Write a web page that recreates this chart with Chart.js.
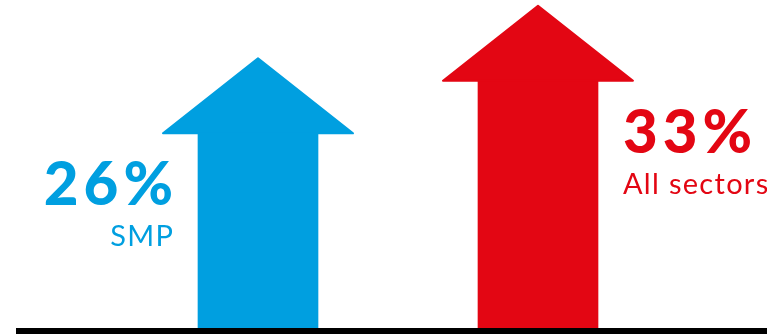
<!DOCTYPE html>
<html lang="en">
<head>
    <meta charset="UTF-8">
    <title>Increase by sector</title>
    <script src="https://cdn.jsdelivr.net/npm/chart.js"></script>
    <style>
        body { margin: 0; background: #fff; }
        #wrap { width: 767px; height: 334px; }
    </style>
</head>
<body>
    <div id="wrap"><canvas id="arrowChart"></canvas></div>

    <script>
        const categories = ['SMP', 'All sectors'];
        const values = [26, 33];
        const colours = ['#009fe0', '#e30613'];

        // draws arrow heads on the bars, the base line and the labels
        const arrowPlugin = {
            id: 'arrows',
            afterDatasetsDraw(chart) {
                const ctx = chart.ctx;
                const meta = chart.getDatasetMeta(0);
                const zeroY = chart.scales.y.getPixelForValue(0);
                const headOver = 35;
                const headHeight = 74;

                ctx.save();
                meta.data.forEach((bar, i) => {
                    const half = bar.width / 2;
                    ctx.fillStyle = colours[i];
                    ctx.strokeStyle = colours[i];
                    ctx.lineWidth = 2;
                    ctx.lineJoin = 'round';
                    ctx.beginPath();
                    ctx.moveTo(bar.x - half - headOver, bar.y + 1);
                    ctx.lineTo(bar.x, bar.y - headHeight);
                    ctx.lineTo(bar.x + half + headOver, bar.y + 1);
                    ctx.closePath();
                    ctx.fill();
                    ctx.stroke();

                    // text to the left of the first arrow, right of the second
                    const left = i === 0;
                    const tx = left ? bar.x - half - 25 : bar.x + half + 25;
                    ctx.textAlign = left ? 'right' : 'left';
                    ctx.textBaseline = 'alphabetic';
                    ctx.font = '900 60px Lato';
                    ctx.letterSpacing = '5px';
                    ctx.fillText(values[i] + '%', left ? tx + 5 : tx, bar.y + 73);
                    ctx.font = '29px Lato';
                    ctx.letterSpacing = '1.3px';
                    ctx.fillText(categories[i], left ? tx + 1.3 : tx, bar.y + 114);
                });
                ctx.letterSpacing = '0px';

                ctx.fillStyle = '#000';
                ctx.fillRect(16, zeroY, chart.width - 16, 6);
                ctx.restore();
            }
        };

        const arrowChart = new Chart(document.getElementById('arrowChart'), {
            type: 'bar',
            data: {
                labels: categories,
                datasets: [{
                    data: values,
                    backgroundColor: colours,
                    borderWidth: 0,
                    barThickness: 120
                }]
            },
            options: {
                responsive: true,
                maintainAspectRatio: false,
                animation: false,
                layout: { padding: { left: 118, right: 89, top: 27, bottom: 6 } },
                plugins: {
                    legend: { display: false },
                    tooltip: { enabled: false }
                },
                scales: {
                    x: { display: false },
                    y: { display: false, min: 0, max: 40 }
                }
            },
            plugins: [arrowPlugin]
        });
    </script>
</body>
</html>
